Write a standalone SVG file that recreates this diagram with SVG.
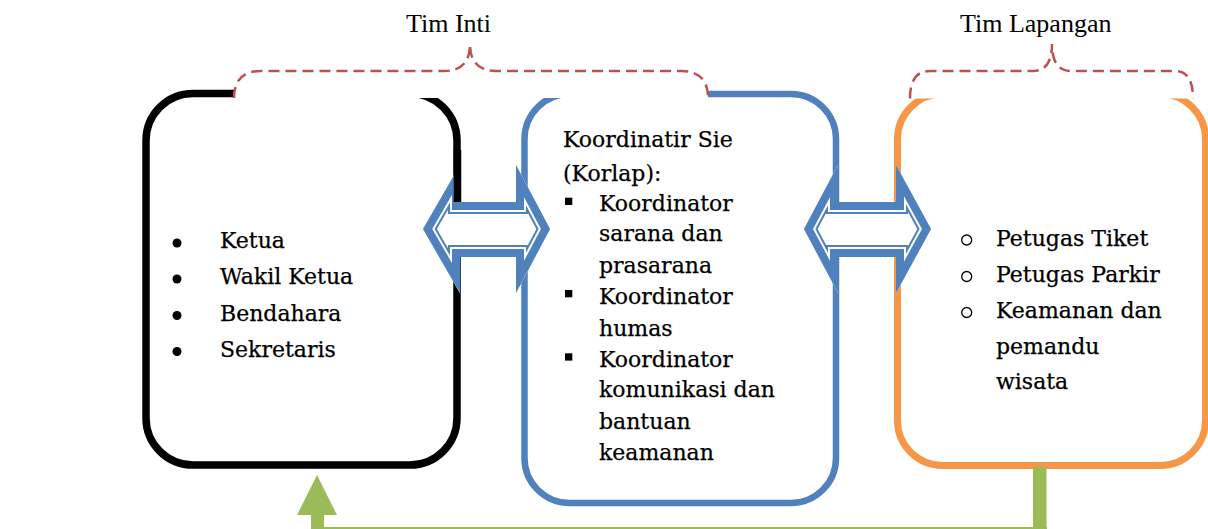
<svg xmlns="http://www.w3.org/2000/svg" xmlns:xlink="http://www.w3.org/1999/xlink" width="1208" height="529" viewBox="0 0 1208 529">
<style>
.lbl{font-family:"Liberation Serif","Times New Roman",serif;font-size:26px;fill:#000}
.t{font-family:"DejaVu Serif","Liberation Serif",serif;font-size:22px;fill:#000;stroke:#000;stroke-width:0.25}
.brace{fill:#fff;stroke:#C0504D;stroke-width:2.5;stroke-dasharray:11 6}
.box{fill:#fff}
</style>
<defs>
<polygon id="a1" points="423,229 460,165 460,202 516,202 516,165 550,229 516,293 516,257 460,257 460,293"/>
<polygon id="a2" points="804,229 838,165 838,202 896,202 896,165 931,229 896,293 896,257 838,257 838,293"/>
<clipPath id="c1"><use xlink:href="#a1"/></clipPath>
<clipPath id="c2"><use xlink:href="#a2"/></clipPath>
</defs>
<rect width="1208" height="529" fill="#fff"/>

<g id="box-inti">
<rect class="box" x="146" y="93.5" width="311" height="371.5" rx="47" stroke="#000" stroke-width="7.5"/>
<circle cx="177" cy="243" r="4.5"/><text class="t" x="220" y="248.3">Ketua</text>
<circle cx="177" cy="279" r="4.5"/><text class="t" x="220" y="284.3">Wakil Ketua</text>
<circle cx="177" cy="315.5" r="4.5"/><text class="t" x="220" y="320.7">Bendahara</text>
<circle cx="177" cy="351.5" r="4.5"/><text class="t" x="220" y="356.7">Sekretaris</text>
</g>

<g id="box-korlap">
<rect class="box" x="524.5" y="94" width="311.5" height="409" rx="45" stroke="#4F81BD" stroke-width="6.5"/>
<text class="t" x="563" y="147">Koordinatir Sie</text>
<text class="t" x="563" y="180.7">(Korlap):</text>
<rect x="565" y="197.7" width="7.3" height="7.3"/>
<text class="t" x="599" y="210.7">Koordinator</text>
<text class="t" x="599" y="241">sarana dan</text>
<text class="t" x="599" y="272.7">prasarana</text>
<rect x="565" y="290" width="7.3" height="7.3"/>
<text class="t" x="599" y="304">Koordinator</text>
<text class="t" x="599" y="335.7">humas</text>
<rect x="565" y="353.3" width="7.3" height="7.3"/>
<text class="t" x="599" y="366.7">Koordinator</text>
<text class="t" x="599" y="397.3">komunikasi dan</text>
<text class="t" x="599" y="429.3">bantuan</text>
<text class="t" x="599" y="460">keamanan</text>
</g>

<g id="box-lapangan">
<rect class="box" x="897.5" y="94" width="308" height="371.5" rx="45" stroke="#F79646" stroke-width="7"/>
<g fill="none" stroke="#000" stroke-width="1.3">
<circle cx="966.7" cy="240" r="5"/>
<circle cx="966.7" cy="276.5" r="5"/>
<circle cx="966.7" cy="312.5" r="5"/>
</g>
<text class="t" x="996" y="245.7">Petugas Tiket</text>
<text class="t" x="996" y="281.7">Petugas Parkir</text>
<text class="t" x="996" y="318.3">Keamanan dan</text>
<text class="t" x="996" y="354">pemandu</text>
<text class="t" x="996" y="389">wisata</text>
</g>

<g id="brace-inti">
<path class="brace" d="M234,98 Q234,71 261,71 L444,71 Q470,71 470,44 Q470,71 496,71 L681,71 Q708,71 708,98"/>
<text class="lbl" x="406" y="32">Tim Inti</text>
</g>

<g id="brace-lapangan">
<path class="brace" d="M910,98.5 Q910,71 930,71 L1033,71 Q1052,71 1052,44 Q1052,71 1071,71 L1175,71 Q1193,71 1193,98.5"/>
<text class="lbl" x="960" y="32">Tim Lapangan</text>
</g>

<g id="connectors">
<g id="arrow-inti-korlap">
<use xlink:href="#a1" fill="#fff"/>
<g clip-path="url(#c1)" fill="none" stroke-linejoin="miter">
<use xlink:href="#a1" stroke="#4F81BD" stroke-width="24"/>
<use xlink:href="#a1" stroke="#fff" stroke-width="20"/>
<use xlink:href="#a1" stroke="#4F81BD" stroke-width="16"/>
</g>
<line x1="457.5" y1="150" x2="457.5" y2="202" stroke="#000" stroke-width="7.5"/>
</g>
<g id="arrow-korlap-lapangan">
<use xlink:href="#a2" fill="#fff"/>
<g clip-path="url(#c2)" fill="none" stroke-linejoin="miter">
<use xlink:href="#a2" stroke="#4F81BD" stroke-width="24"/>
<use xlink:href="#a2" stroke="#fff" stroke-width="20"/>
<use xlink:href="#a2" stroke="#4F81BD" stroke-width="16"/>
</g>
</g>
<g id="green-feedback" fill="#9BBB59">
<rect x="1033" y="467" width="13.5" height="62"/>
<rect x="311" y="527" width="736" height="14"/>
<rect x="311" y="514" width="13" height="15"/>
<polygon points="297,515 317,475 337,515"/>
</g>
</g>
</svg>
